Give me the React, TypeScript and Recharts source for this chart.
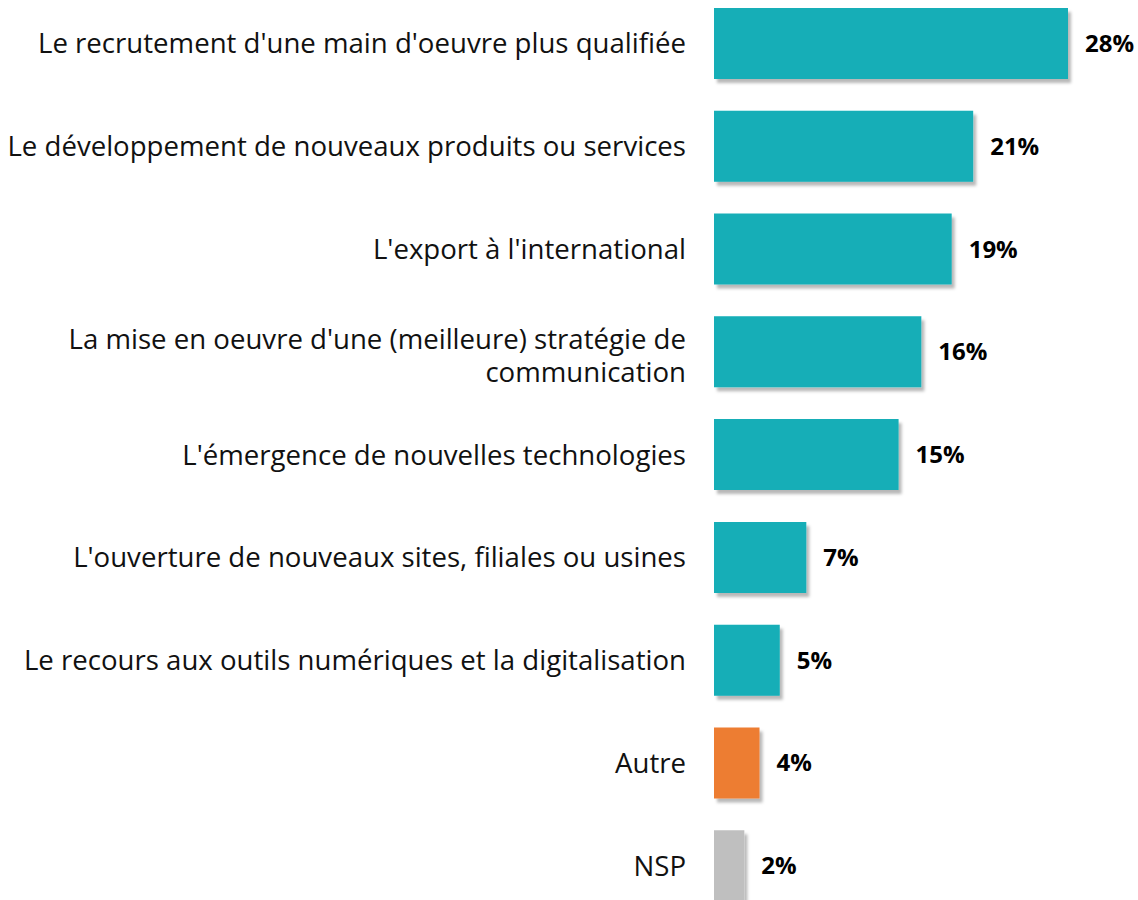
import React from 'react';
import { BarChart, Bar, XAxis, YAxis, Cell, LabelList, Rectangle } from 'recharts';

const categories = [
  "Le recrutement d'une main d'oeuvre plus qualifiée",
  'Le développement de nouveaux produits ou services',
  "L'export à l'international",
  "La mise en oeuvre d'une (meilleure) stratégie de communication",
  "L'émergence de nouvelles technologies",
  "L'ouverture de nouveaux sites, filiales ou usines",
  'Le recours aux outils numériques et la digitalisation',
  'Autre',
  'NSP'
];

// bar lengths (labels show the rounded %)
const shares = [28, 20.5, 18.8, 16.4, 14.6, 7.3, 5.2, 3.6, 2.4];

const data = categories.map((name, i) => ({ name, value: shares[i] }));

const FONT = '"Open Sans", sans-serif';

const barColor = (name: string) => {
  if (name === 'Autre') return '#ED7D31';
  if (name === 'NSP') return '#BFBFBF';
  return '#14AEB7';
};

// long labels push their last word onto a second line
const splitLabel = (label: string) => {
  if (label.length <= 55) return [label];
  const cut = label.lastIndexOf(' ');
  return [label.slice(0, cut), label.slice(cut + 1)];
};

const CategoryTick = ({ x, y, payload }: any) => {
  const lines = splitLabel(String(payload.value));
  const first = lines.length > 1 ? y - 3 : y + 10;
  return (
    <text x={x} y={first} textAnchor="end" fill="#111" fontFamily={FONT} fontSize={27.6}>
      {lines.map((l, i) => (
        <tspan key={i} x={x} dy={i === 0 ? 0 : 33}>
          {l}
        </tspan>
      ))}
    </text>
  );
};

const ShadowBar = (props: any) => (
  <Rectangle {...props} filter="url(#barShadow)" />
);

export default function App() {
  return (
    <div style={{ position: 'absolute', left: 0, top: -8 }}>
      <BarChart
        width={1138}
        height={925}
        data={data}
        layout="vertical"
        margin={{ top: 0, right: 70, bottom: 0, left: 0 }}
      >
        <defs>
          <filter id="barShadow" x="-10%" y="-10%" width="130%" height="140%">
            <feDropShadow dx="3" dy="4" stdDeviation="1.5" floodColor="#000" floodOpacity="0.28" />
          </filter>
        </defs>
        <XAxis type="number" domain={[0, 28]} hide />
        <YAxis
          type="category"
          dataKey="name"
          width={714}
          axisLine={false}
          tickLine={false}
          tickSize={0}
          tickMargin={28}
          interval={0}
          tick={<CategoryTick />}
        />
        <Bar dataKey="value" barSize={71} isAnimationActive={false} shape={<ShadowBar />}>
          {data.map((d) => (
            <Cell key={d.name} fill={barColor(d.name)} />
          ))}
          <LabelList
            dataKey="value"
            position="right"
            offset={17}
            formatter={(v: any) => `${Math.round(v)}%`}
            style={{ fontFamily: FONT, fontSize: 24, fontWeight: 700, fill: '#000' }}
          />
        </Bar>
      </BarChart>
    </div>
  );
}
